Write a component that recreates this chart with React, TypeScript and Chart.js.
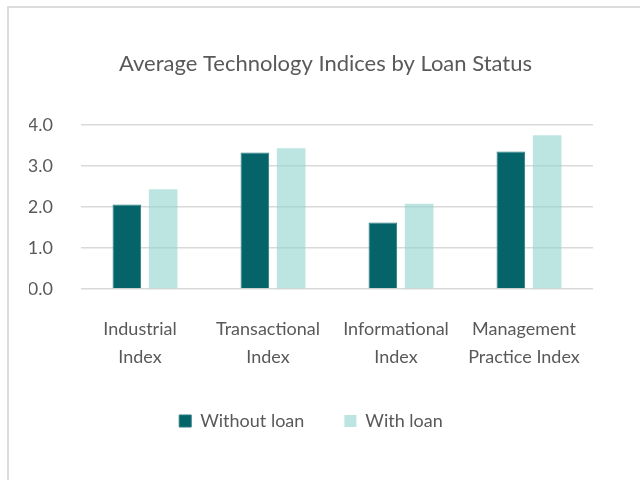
import React, { useEffect, useRef } from "react";
import { Chart, registerables } from "chart.js";

Chart.register(...registerables);

const categories: string[][] = [
  ["Industrial", "Index"],
  ["Transactional", "Index"],
  ["Informational", "Index"],
  ["Management", "Practice Index"],
];
const withoutLoan: number[] = [2.06, 3.33, 1.62, 3.35];
const withLoan: number[] = [2.43, 3.43, 2.08, 3.75];
const seriesNames: string[] = ["Without loan", "With loan"];
const titleText = "Average Technology Indices by Loan Status";
const yTicks: number[] = [0, 1, 2, 3, 4];

const FONT = "Lato, 'Open Sans', sans-serif";
const TEXT = "#595959";
const GRID = "#d9d9d9";

const shiftPlugin = {
  id: "shiftBlocks",
  afterLayout(chart: any) {
    const t = chart.titleBlock;
    if (t) {
      t.left += 29;
    }
    const l = chart.legend;
    if (l) {
      l.top -= 25;
      l.bottom -= 25;
    }
  },
};

export default function App() {
  const ref = useRef<HTMLCanvasElement | null>(null);

  useEffect(() => {
    if (!ref.current) return;
    const chart = new Chart(ref.current, {
      type: "bar",
      data: {
        labels: categories,
        datasets: [
          {
            label: seriesNames[0],
            data: withoutLoan,
            backgroundColor: "#05646a",
            borderColor: "#2a7c81",
            borderWidth: 1,
            categoryPercentage: 0.567,
            barPercentage: 0.788,
          },
          {
            label: seriesNames[1],
            data: withLoan,
            backgroundColor: "rgba(143,210,203,0.6)",
            borderWidth: 0,
            categoryPercentage: 0.567,
            barPercentage: 0.788,
          },
        ],
      },
      options: {
        responsive: false,
        animation: false,
        devicePixelRatio: 1,
        layout: { padding: { left: 29, right: 47, top: 0, bottom: 15 } },
        plugins: {
          title: {
            display: true,
            text: titleText,
            color: TEXT,
            font: { family: FONT, size: 22, weight: "normal" },
            padding: { top: 51, bottom: 47.5 },
          },
          legend: {
            display: true,
            position: "bottom",
            labels: {
              color: TEXT,
              font: { family: FONT, size: 18 },
              boxWidth: 12,
              boxHeight: 12,
              padding: 40,
            },
          },
          tooltip: { enabled: false },
        },
        scales: {
          x: {
            grid: { display: false, drawTicks: false },
            border: { display: false },
            ticks: {
              color: TEXT,
              font: { family: FONT, size: 18, lineHeight: 28 / 18 },
              padding: 26,
              labelOffset: -5,
              maxRotation: 0,
              autoSkip: false,
            },
          },
          y: {
            min: yTicks[0],
            max: yTicks[yTicks.length - 1],
            afterFit(scale: any) {
              scale.width = 52;
            },
            grid: { color: GRID, lineWidth: 1.5, drawTicks: false },
            border: { display: false },
            ticks: {
              stepSize: 1,
              color: TEXT,
              font: { family: FONT, size: 18 },
              padding: 28,
              callback: (v: any) => Number(v).toFixed(1),
            },
          },
        },
      },
      plugins: [shiftPlugin],
    });
    return () => chart.destroy();
  }, []);

  return (
    <div
      style={{
        position: "fixed",
        left: 0,
        top: 0,
        width: 640,
        height: 480,
        overflow: "hidden",
        background: "#fff",
      }}
    >
      <div
        style={{
          position: "absolute",
          left: 7,
          top: 6,
          width: 700,
          height: 600,
          borderTop: "2px solid #dcdcdc",
          borderLeft: "2px solid #dcdcdc",
        }}
      />
      <canvas
        ref={ref}
        width={640}
        height={480}
        style={{ position: "absolute", left: 0, top: 0, width: 640, height: 480 }}
      />
    </div>
  );
}
